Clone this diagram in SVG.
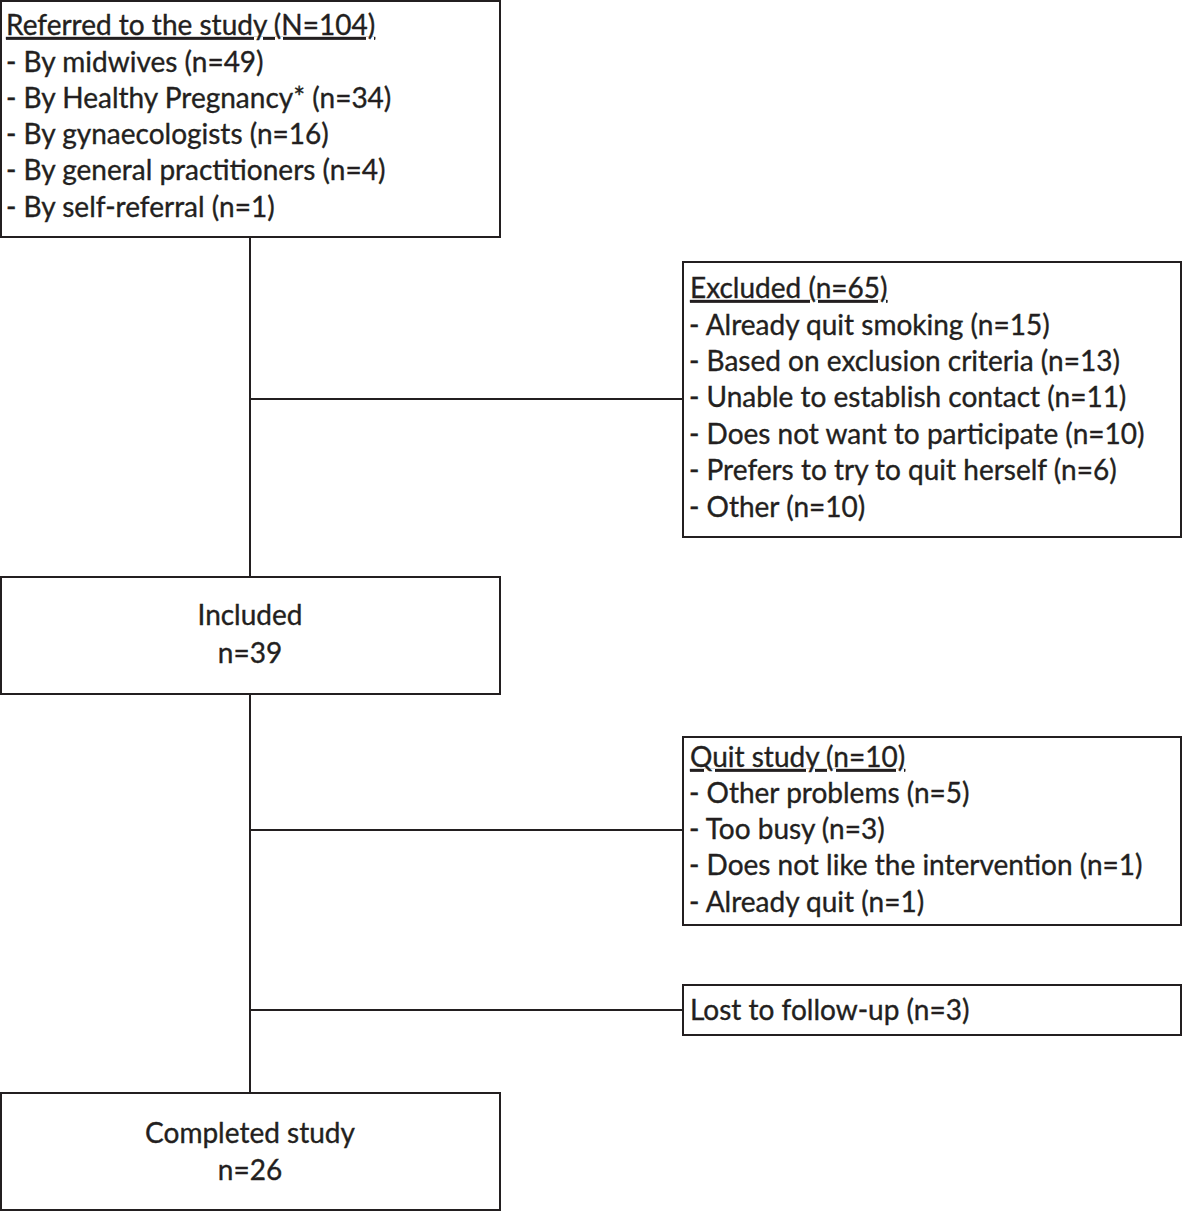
<svg xmlns="http://www.w3.org/2000/svg" width="1182" height="1212" viewBox="0 0 1182 1212">
<style>
.box{fill:#fff;stroke:#231f20;stroke-width:2}
.t{font-family:Lato,"Open Sans","Liberation Sans",sans-serif;font-size:28px;fill:#231f20;stroke:#231f20;stroke-width:0.35}
.c{text-anchor:middle}
.u{text-decoration:underline}
.ln{stroke:#231f20;stroke-width:2;fill:none}
</style>
<rect width="1182" height="1212" fill="#fff"/>
<g id="connectors">
<line class="ln" x1="250" y1="237" x2="250" y2="577"/>
<line class="ln" x1="250" y1="694" x2="250" y2="1093"/>
<line class="ln" x1="250" y1="399" x2="683" y2="399"/>
<line class="ln" x1="250" y1="830" x2="683" y2="830"/>
<line class="ln" x1="250" y1="1010" x2="683" y2="1010"/>
</g>
<g id="referred">
<rect class="box" x="1" y="1" width="499" height="236"/>
<text class="t u" x="6" y="35">Referred to the study (N=104)</text>
<text class="t" x="6" y="72">- By midwives (n=49)</text>
<text class="t" x="6" y="108">- By Healthy Pregnancy* (n=34)</text>
<text class="t" x="6" y="144">- By gynaecologists (n=16)</text>
<text class="t" x="6" y="180">- By general practitioners (n=4)</text>
<text class="t" x="6" y="217">- By self-referral (n=1)</text>
</g>
<g id="excluded">
<rect class="box" x="683" y="262" width="498" height="275"/>
<text class="t u" x="690" y="298">Excluded (n=65)</text>
<text class="t" x="689" y="335">- Already quit smoking (n=15)</text>
<text class="t" x="689" y="371">- Based on exclusion criteria (n=13)</text>
<text class="t" x="689" y="407">- Unable to establish contact (n=11)</text>
<text class="t" x="689" y="444">- Does not want to participate (n=10)</text>
<text class="t" x="689" y="480">- Prefers to try to quit herself (n=6)</text>
<text class="t" x="689" y="517">- Other (n=10)</text>
</g>
<g id="included">
<rect class="box" x="1" y="577" width="499" height="117"/>
<text class="t c" x="250" y="625">Included</text>
<text class="t c" x="250" y="663">n=39</text>
</g>
<g id="quit">
<rect class="box" x="683" y="737" width="498" height="188"/>
<text class="t u" x="690" y="767">Quit study (n=10)</text>
<text class="t" x="689" y="803">- Other problems (n=5)</text>
<text class="t" x="689" y="839">- Too busy (n=3)</text>
<text class="t" x="689" y="875">- Does not like the intervention (n=1)</text>
<text class="t" x="689" y="912">- Already quit (n=1)</text>
</g>
<g id="lost">
<rect class="box" x="683" y="985" width="498" height="50"/>
<text class="t" x="690" y="1020">Lost to follow-up (n=3)</text>
</g>
<g id="completed">
<rect class="box" x="1" y="1093" width="499" height="117"/>
<text class="t c" x="250" y="1143">Completed study</text>
<text class="t c" x="250" y="1180">n=26</text>
</g>
</svg>
